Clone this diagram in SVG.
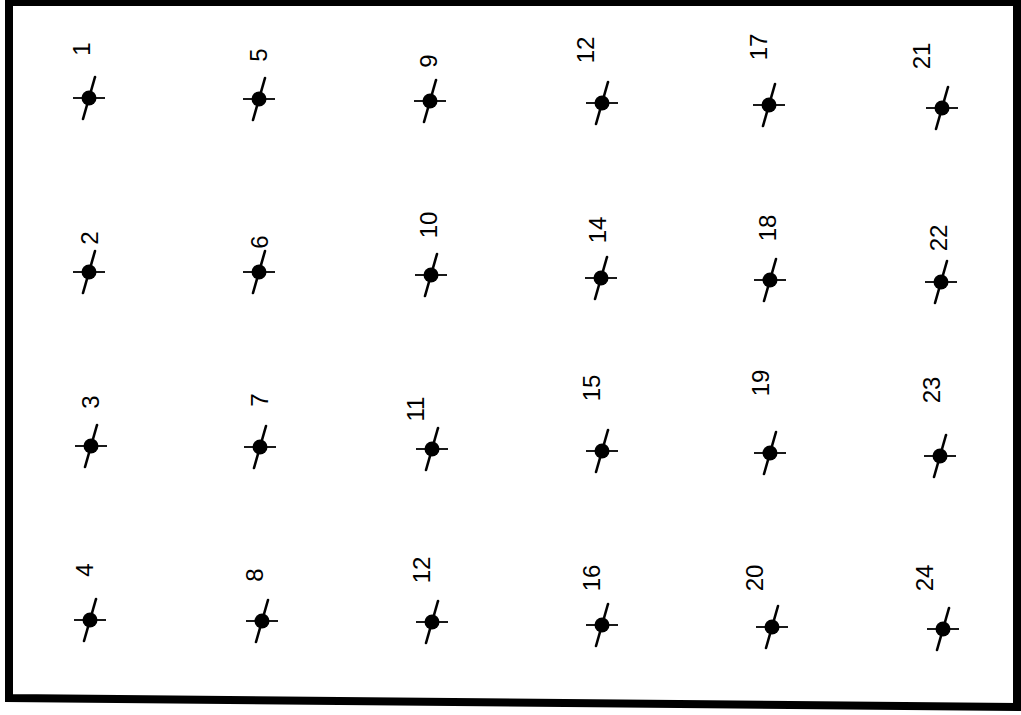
<svg xmlns="http://www.w3.org/2000/svg" width="1021" height="715" viewBox="0 0 1021 715">
<style>
.lbl{font-family:"Liberation Sans",Arial,sans-serif;font-size:24px;fill:#000;text-anchor:middle}
.h{stroke:#000;stroke-width:1.8}
.s{stroke:#000;stroke-width:2.6;stroke-linecap:round}
</style>
<defs>
<g id="pt">
<line class="h" x1="-16" y1="0" x2="16" y2="0"/>
<line class="s" x1="6" y1="-21" x2="-6" y2="21"/>
<circle r="7.5" fill="#000"/>
</g>
</defs>
<rect width="1021" height="715" fill="#fff"/>
<path d="M9,2 L1017,2 L1017,707 L9,698 Z" fill="none" stroke="#000" stroke-width="8"/>
<g id="n1"><use href="#pt" x="89" y="98"/><text class="lbl" transform="translate(90,49) rotate(-90)">1</text></g>
<g id="n5"><use href="#pt" x="259" y="99"/><text class="lbl" transform="translate(267,55) rotate(-90)">5</text></g>
<g id="n9"><use href="#pt" x="430" y="101"/><text class="lbl" transform="translate(437,61) rotate(-90)">9</text></g>
<g id="n12a"><use href="#pt" x="602" y="103"/><text class="lbl" transform="translate(594,50) rotate(-90)">12</text></g>
<g id="n17"><use href="#pt" x="769" y="105"/><text class="lbl" transform="translate(767,47) rotate(-90)">17</text></g>
<g id="n21"><use href="#pt" x="942" y="108"/><text class="lbl" transform="translate(930,56) rotate(-90)">21</text></g>
<g id="n2"><use href="#pt" x="89" y="272"/><text class="lbl" transform="translate(98,238) rotate(-90)">2</text></g>
<g id="n6"><use href="#pt" x="259" y="272"/><text class="lbl" transform="translate(268,242) rotate(-90)">6</text></g>
<g id="n10"><use href="#pt" x="431" y="275"/><text class="lbl" transform="translate(437,225) rotate(-90)">10</text></g>
<g id="n14"><use href="#pt" x="601" y="278"/><text class="lbl" transform="translate(606,230) rotate(-90)">14</text></g>
<g id="n18"><use href="#pt" x="770" y="280"/><text class="lbl" transform="translate(776,228) rotate(-90)">18</text></g>
<g id="n22"><use href="#pt" x="941" y="282"/><text class="lbl" transform="translate(947,238) rotate(-90)">22</text></g>
<g id="n3"><use href="#pt" x="91" y="446"/><text class="lbl" transform="translate(99,402) rotate(-90)">3</text></g>
<g id="n7"><use href="#pt" x="260" y="447"/><text class="lbl" transform="translate(268,400) rotate(-90)">7</text></g>
<g id="n11"><use href="#pt" x="432" y="449"/><text class="lbl" transform="translate(424,409) rotate(-90)">11</text></g>
<g id="n15"><use href="#pt" x="602" y="451"/><text class="lbl" transform="translate(600,388) rotate(-90)">15</text></g>
<g id="n19"><use href="#pt" x="770" y="453"/><text class="lbl" transform="translate(769,383) rotate(-90)">19</text></g>
<g id="n23"><use href="#pt" x="940" y="456"/><text class="lbl" transform="translate(940,390) rotate(-90)">23</text></g>
<g id="n4"><use href="#pt" x="90" y="620"/><text class="lbl" transform="translate(93,570) rotate(-90)">4</text></g>
<g id="n8"><use href="#pt" x="262" y="621"/><text class="lbl" transform="translate(263,575) rotate(-90)">8</text></g>
<g id="n12b"><use href="#pt" x="432" y="622"/><text class="lbl" transform="translate(430,570) rotate(-90)">12</text></g>
<g id="n16"><use href="#pt" x="602" y="625"/><text class="lbl" transform="translate(600,578) rotate(-90)">16</text></g>
<g id="n20"><use href="#pt" x="772" y="627"/><text class="lbl" transform="translate(763,578) rotate(-90)">20</text></g>
<g id="n24"><use href="#pt" x="943" y="629"/><text class="lbl" transform="translate(933,578) rotate(-90)">24</text></g>
</svg>
